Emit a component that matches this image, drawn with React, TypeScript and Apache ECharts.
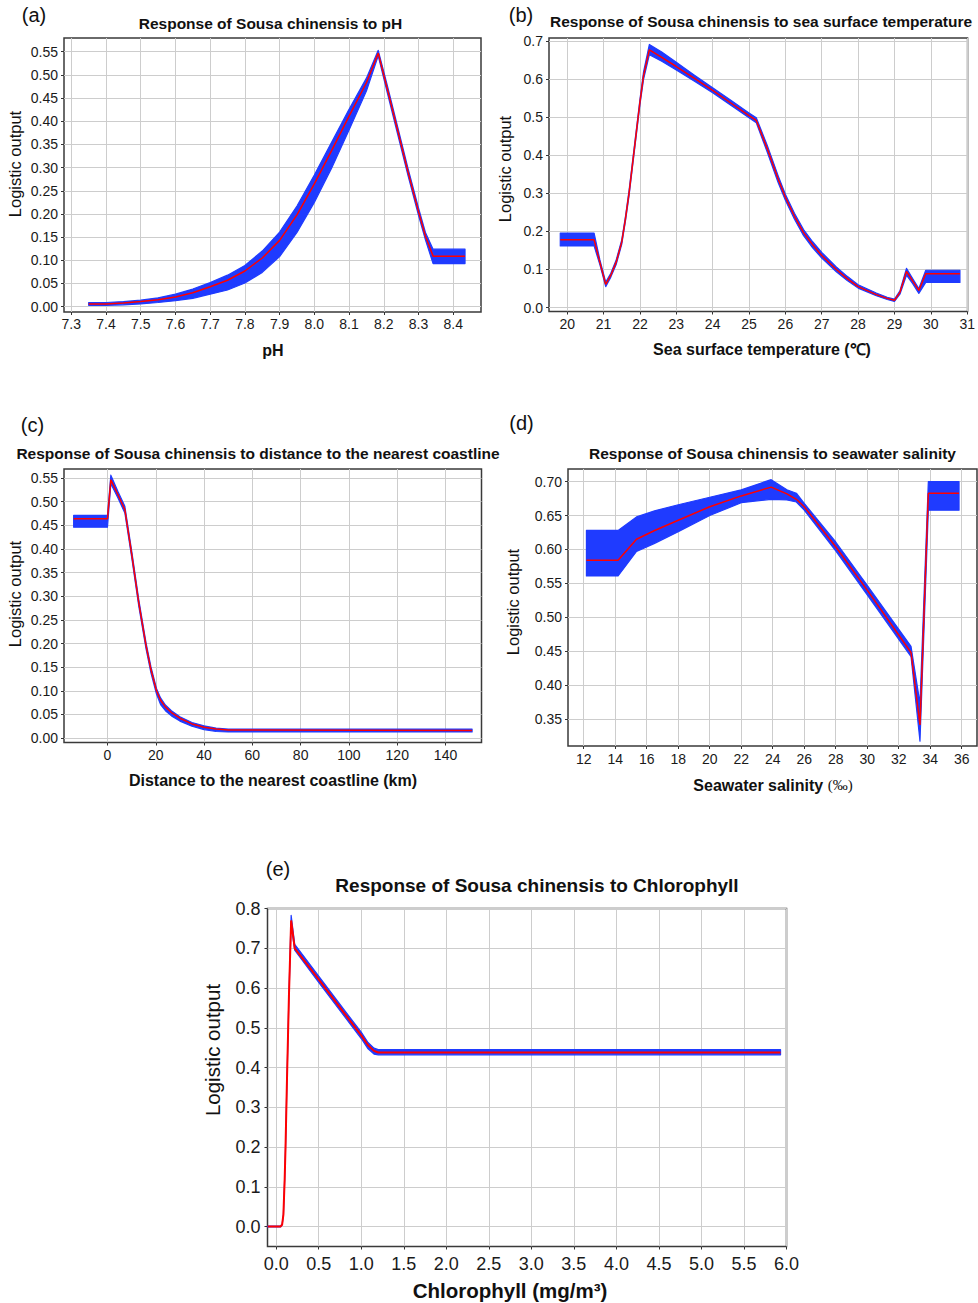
import React, { useEffect, useRef } from "react";
import * as echarts from "echarts";

// ---------- (a) pH ----------
const phX = [7.35, 7.40, 7.45, 7.50, 7.55, 7.60, 7.65, 7.70, 7.75, 7.80, 7.85, 7.90, 7.95, 8.00, 8.05, 8.10, 8.15, 8.184, 8.21, 8.24, 8.27, 8.30, 8.32, 8.342, 8.434];
const phMean = [0.006, 0.006, 0.008, 0.011, 0.015, 0.021, 0.030, 0.043, 0.057, 0.077, 0.105, 0.143, 0.198, 0.265, 0.337, 0.411, 0.483, 0.547, 0.470, 0.380, 0.290, 0.205, 0.152, 0.109, 0.109];
const phUpper = [0.009, 0.009, 0.011, 0.014, 0.019, 0.027, 0.038, 0.052, 0.068, 0.089, 0.120, 0.161, 0.217, 0.284, 0.355, 0.426, 0.493, 0.553, 0.478, 0.388, 0.298, 0.213, 0.160, 0.124, 0.124];
const phLower = [0.003, 0.003, 0.004, 0.006, 0.009, 0.013, 0.018, 0.027, 0.036, 0.051, 0.074, 0.108, 0.160, 0.225, 0.299, 0.381, 0.465, 0.541, 0.462, 0.372, 0.282, 0.197, 0.144, 0.093, 0.093];
const phXTicks = [7.3, 7.4, 7.5, 7.6, 7.7, 7.8, 7.9, 8.0, 8.1, 8.2, 8.3, 8.4];
const phYTicks = [0, 0.05, 0.1, 0.15, 0.2, 0.25, 0.3, 0.35, 0.4, 0.45, 0.5, 0.55];

// ---------- (b) sea surface temperature ----------
const sstX = [19.81, 20.74, 20.9, 21.06, 21.2, 21.35, 21.5, 21.6, 21.7, 21.8, 21.9, 22.0, 22.1, 22.26, 22.6, 23.0, 23.5, 24.0, 24.5, 25.0, 25.2, 25.5, 25.8, 26.0, 26.25, 26.5, 26.75, 27.0, 27.4, 27.7, 28.0, 28.5, 28.8, 29.0, 29.15, 29.33, 29.5, 29.67, 29.86, 30.8];
const sstMean = [0.178, 0.178, 0.118, 0.061, 0.085, 0.120, 0.172, 0.232, 0.300, 0.380, 0.460, 0.540, 0.610, 0.678, 0.658, 0.634, 0.603, 0.571, 0.538, 0.505, 0.492, 0.418, 0.338, 0.290, 0.240, 0.197, 0.165, 0.137, 0.100, 0.076, 0.055, 0.034, 0.024, 0.019, 0.040, 0.095, 0.070, 0.045, 0.089, 0.089];
const sstUpper = [0.196, 0.196, 0.125, 0.067, 0.090, 0.126, 0.178, 0.238, 0.307, 0.387, 0.467, 0.547, 0.620, 0.692, 0.672, 0.645, 0.611, 0.578, 0.545, 0.512, 0.499, 0.427, 0.347, 0.298, 0.248, 0.205, 0.173, 0.145, 0.107, 0.082, 0.060, 0.038, 0.027, 0.022, 0.044, 0.103, 0.076, 0.050, 0.098, 0.098];
const sstLower = [0.162, 0.162, 0.112, 0.055, 0.080, 0.114, 0.166, 0.226, 0.293, 0.373, 0.453, 0.533, 0.600, 0.665, 0.648, 0.625, 0.595, 0.565, 0.532, 0.499, 0.486, 0.409, 0.329, 0.282, 0.232, 0.189, 0.157, 0.130, 0.094, 0.071, 0.051, 0.031, 0.021, 0.016, 0.035, 0.085, 0.063, 0.037, 0.066, 0.066];
const sstXTicks = [20, 21, 22, 23, 24, 25, 26, 27, 28, 29, 30, 31];
const sstYTicks = [0, 0.1, 0.2, 0.3, 0.4, 0.5, 0.6, 0.7];

// ---------- (c) distance to coastline ----------
const distX = [-14, 0, 1.4, 4.3, 7.2, 10, 13, 16, 18, 20.3, 22, 24, 26.5, 30, 35, 40, 45, 50, 151];
const distMean = [0.464, 0.464, 0.546, 0.515, 0.483, 0.390, 0.285, 0.195, 0.145, 0.100, 0.080, 0.066, 0.054, 0.042, 0.030, 0.023, 0.019, 0.017, 0.016];
const distUpper = [0.471, 0.471, 0.556, 0.522, 0.490, 0.397, 0.292, 0.201, 0.151, 0.105, 0.085, 0.070, 0.058, 0.045, 0.033, 0.026, 0.021, 0.019, 0.019];
const distLower = [0.446, 0.446, 0.538, 0.508, 0.476, 0.383, 0.278, 0.188, 0.138, 0.093, 0.071, 0.058, 0.047, 0.036, 0.025, 0.018, 0.014, 0.013, 0.013];
const distXTicks = [0, 20, 40, 60, 80, 100, 120, 140];
const distYTicks = [0, 0.05, 0.1, 0.15, 0.2, 0.25, 0.3, 0.35, 0.4, 0.45, 0.5, 0.55];

// ---------- (d) seawater salinity ----------
const salX = [12.17, 14.18, 15.35, 16.5, 18, 20, 22, 23.9, 24.9, 25.5, 26, 28, 30, 32.78, 33.35, 33.88, 35.83];
const salMean = [0.584, 0.584, 0.615, 0.628, 0.643, 0.663, 0.679, 0.692, 0.682, 0.674, 0.663, 0.604, 0.540, 0.448, 0.341, 0.683, 0.683];
const salUpper = [0.628, 0.628, 0.648, 0.657, 0.666, 0.677, 0.688, 0.703, 0.688, 0.683, 0.668, 0.611, 0.547, 0.457, 0.373, 0.700, 0.700];
const salLower = [0.561, 0.561, 0.597, 0.609, 0.626, 0.650, 0.669, 0.674, 0.673, 0.670, 0.658, 0.598, 0.533, 0.442, 0.317, 0.658, 0.658];
const salXTicks = [12, 14, 16, 18, 20, 22, 24, 26, 28, 30, 32, 34, 36];
const salYTicks = [0.35, 0.4, 0.45, 0.5, 0.55, 0.6, 0.65, 0.7];

// ---------- (e) chlorophyll ----------
const chlX = [-0.1, 0.05, 0.07, 0.085, 0.10, 0.11, 0.125, 0.15, 0.176, 0.218, 0.5, 0.8, 1.0, 1.08, 1.15, 1.2, 5.93];
const chlMean = [0.0, 0.0, 0.005, 0.03, 0.12, 0.2, 0.35, 0.58, 0.77, 0.70, 0.622, 0.537, 0.481, 0.456, 0.442, 0.438, 0.438];
const chlUpper = [0.001, 0.001, 0.006, 0.031, 0.121, 0.201, 0.351, 0.581, 0.783, 0.710, 0.630, 0.545, 0.489, 0.463, 0.449, 0.445, 0.445];
const chlLower = [-0.001, -0.001, 0.004, 0.029, 0.119, 0.199, 0.349, 0.579, 0.760, 0.695, 0.614, 0.529, 0.473, 0.447, 0.434, 0.432, 0.432];
const chlXTicks = [0, 0.5, 1.0, 1.5, 2.0, 2.5, 3.0, 3.5, 4.0, 4.5, 5.0, 5.5, 6.0];
const chlYTicks = [0, 0.1, 0.2, 0.3, 0.4, 0.5, 0.6, 0.7, 0.8];

const FONT = '"Liberation Sans", Arial, Helvetica, sans-serif';
const BLUE = "#1f3bff";
const RED = "#ff0000";

type Panel = {
  grid: { left: number; top: number; width: number; height: number };
  xRange: [number, number];
  yRange: [number, number];
  xTicks: number[];
  yTicks: number[];
  xDec: number;
  yDec: number;
  tickFont: number;
  xMargin: number;
  yMargin: number;
  x: number[];
  mean: number[];
  upper: number[];
  lower: number[];
  redWidth: number;
};

const panels: Panel[] = [
  {
    grid: { left: 64, top: 38, width: 417, height: 274 },
    xRange: [7.279, 8.48], yRange: [-0.0115, 0.5796],
    xTicks: phXTicks, yTicks: phYTicks, xDec: 1, yDec: 2, tickFont: 14, xMargin: 5, yMargin: 6,
    x: phX, mean: phMean, upper: phUpper, lower: phLower, redWidth: 1.5,
  },
  {
    grid: { left: 549, top: 38, width: 425, height: 273.5 },
    xRange: [19.5, 31.01], yRange: [-0.0105, 0.709],
    xTicks: sstXTicks, yTicks: sstYTicks, xDec: 0, yDec: 1, tickFont: 14, xMargin: 5, yMargin: 6,
    x: sstX, mean: sstMean, upper: sstUpper, lower: sstLower, redWidth: 1.5,
  },
  {
    grid: { left: 64, top: 469, width: 417.5, height: 273.5 },
    xRange: [-18, 154.9], yRange: [-0.0093, 0.569],
    xTicks: distXTicks, yTicks: distYTicks, xDec: 0, yDec: 2, tickFont: 14, xMargin: 5, yMargin: 6,
    x: distX, mean: distMean, upper: distUpper, lower: distLower, redWidth: 1.5,
  },
  {
    grid: { left: 568, top: 469, width: 409, height: 277 },
    xRange: [11.0, 36.97], yRange: [0.31, 0.7187],
    xTicks: salXTicks, yTicks: salYTicks, xDec: 0, yDec: 2, tickFont: 14, xMargin: 6, yMargin: 6,
    x: salX, mean: salMean, upper: salUpper, lower: salLower, redWidth: 1.5,
  },
  {
    grid: { left: 267.5, top: 908.5, width: 519, height: 338 },
    xRange: [-0.102, 6.0], yRange: [-0.05, 0.8],
    xTicks: chlXTicks, yTicks: chlYTicks, xDec: 1, yDec: 1, tickFont: 18, xMargin: 8, yMargin: 7,
    x: chlX, mean: chlMean, upper: chlUpper, lower: chlLower, redWidth: 2,
  },
];

type TextSpec = {
  text: string;
  x: number;
  y: number;
  size: number;
  bold?: boolean;
  rotate?: boolean;
  rich?: any;
};

const texts: TextSpec[] = [
  { text: "(a)", x: 34, y: 15, size: 20 },
  { text: "Response of Sousa chinensis to pH", x: 270.5, y: 23, size: 15.5, bold: true },
  { text: "Logistic output", x: 15, y: 164, size: 16.5, rotate: true },
  { text: "pH", x: 273, y: 350, size: 16, bold: true },

  { text: "(b)", x: 521, y: 15, size: 20 },
  { text: "Response of Sousa chinensis to sea surface temperature", x: 761, y: 21.5, size: 15.5, bold: true },
  { text: "Logistic output", x: 505, y: 169, size: 16.5, rotate: true },
  { text: "Sea surface temperature (℃)", x: 762, y: 349, size: 16, bold: true },

  { text: "(c)", x: 32.5, y: 425, size: 20 },
  { text: "Response of Sousa chinensis to distance to the nearest coastline", x: 258, y: 453, size: 15.5, bold: true },
  { text: "Logistic output", x: 15, y: 594, size: 16.5, rotate: true },
  { text: "Distance to the nearest coastline (km)", x: 273, y: 780, size: 16, bold: true },

  { text: "(d)", x: 521.5, y: 423, size: 20 },
  { text: "Response of Sousa chinensis to seawater salinity", x: 772.5, y: 453, size: 15.5, bold: true },
  { text: "Logistic output", x: 513, y: 602, size: 16.5, rotate: true },
  {
    text: "{b|Seawater salinity }{s|(‰)}", x: 773, y: 785, size: 16, bold: true,
    rich: {
      b: { fontSize: 16, fontWeight: "bold", fontFamily: FONT, fill: "#111", color: "#111" },
      s: { fontSize: 15, fontWeight: "normal", fontFamily: '"Liberation Serif", "Times New Roman", serif', fill: "#111", color: "#111" },
    },
  },

  { text: "(e)", x: 278, y: 869, size: 20 },
  { text: "Response of Sousa chinensis to Chlorophyll", x: 537, y: 885, size: 19, bold: true },
  { text: "Logistic output", x: 212, y: 1050, size: 20.5, rotate: true },
  { text: "Chlorophyll (mg/m³)", x: 510, y: 1290, size: 20.5, bold: true },
];

function buildOption() {
  const grids = panels.map((p) => ({
    ...p.grid,
    show: true,
    borderColor: "#3a3a3a",
    borderWidth: 1.5,
    backgroundColor: "rgba(0,0,0,0)",
    containLabel: false,
  }));

  const axisCommon = (p: Panel, i: number, ticks: number[], dec: number, range: [number, number], margin: number) => ({
    type: "value",
    gridIndex: i,
    min: range[0],
    max: range[1],
    axisLine: { show: false, onZero: false },
    axisTick: { show: true, inside: false, length: 3, customValues: ticks, lineStyle: { color: "#333", width: 1 } },
    axisLabel: {
      customValues: ticks,
      formatter: (v: number) => v.toFixed(dec),
      margin,
      fontSize: p.tickFont,
      color: "#1a1a1a",
      fontFamily: FONT,
      showMinLabel: true,
      showMaxLabel: true,
      hideOverlap: false,
    },
    splitLine: { show: true, lineStyle: { color: "#cdcdcd", width: 1 } },
  });

  const xAxes = panels.map((p, i) => axisCommon(p, i, p.xTicks, p.xDec, p.xRange, p.xMargin));
  const yAxes = panels.map((p, i) => axisCommon(p, i, p.yTicks, p.yDec, p.yRange, p.yMargin));

  const series: any[] = [];
  panels.forEach((p, i) => {
    series.push({
      type: "custom",
      xAxisIndex: i,
      yAxisIndex: i,
      silent: true,
      clip: false,
      z: 2,
      encode: { x: 0, y: [1, 2] },
      data: p.x.map((x, k) => [x, p.lower[k], p.upper[k]]),
      renderItem: (params: any, api: any) => {
        if (params.dataIndexInside !== 0) return null;
        const n = params.dataInsideLength;
        const lo: number[][] = [];
        const hi: number[][] = [];
        for (let k = 0; k < n; k++) {
          const xv = api.value(0, k);
          lo.push(api.coord([xv, api.value(1, k)]));
          hi.push(api.coord([xv, api.value(2, k)]));
        }
        hi.reverse();
        return {
          type: "polygon",
          shape: { points: lo.concat(hi) },
          style: { fill: BLUE, stroke: BLUE, lineWidth: 1.2, lineJoin: "round" },
        };
      },
    });
    series.push({
      type: "line",
      xAxisIndex: i,
      yAxisIndex: i,
      silent: true,
      z: 3,
      symbol: "none",
      data: p.x.map((x, k) => [x, p.mean[k]]),
      lineStyle: { color: RED, width: p.redWidth },
    });
  });

  const graphic = texts.map((t) => {
    const style: any = {
      text: t.text,
      fill: "#111",
      fontSize: t.size,
      fontWeight: t.bold ? "bold" : "normal",
      fontFamily: FONT,
      align: "center",
      verticalAlign: "middle",
      textAlign: "center",
      textVerticalAlign: "middle",
    };
    if (t.rich) style.rich = t.rich;
    return {
      type: "text",
      x: t.x,
      y: t.y,
      rotation: t.rotate ? Math.PI / 2 : 0,
      silent: true,
      style,
    };
  });

  return {
    animation: false,
    backgroundColor: "#ffffff",
    textStyle: { fontFamily: FONT },
    grid: grids,
    xAxis: xAxes,
    yAxis: yAxes,
    series,
    graphic,
  };
}

export default function App() {
  const ref = useRef<HTMLDivElement>(null);
  useEffect(() => {
    if (!ref.current) return;
    const chart = echarts.init(ref.current, null, { renderer: "svg" });
    chart.setOption(buildOption() as any);
    return () => {
      chart.dispose();
    };
  }, []);
  return (
    <div
      ref={ref}
      style={{ position: "absolute", left: 0, top: 0, width: 978, height: 1303, background: "#fff" }}
    />
  );
}
